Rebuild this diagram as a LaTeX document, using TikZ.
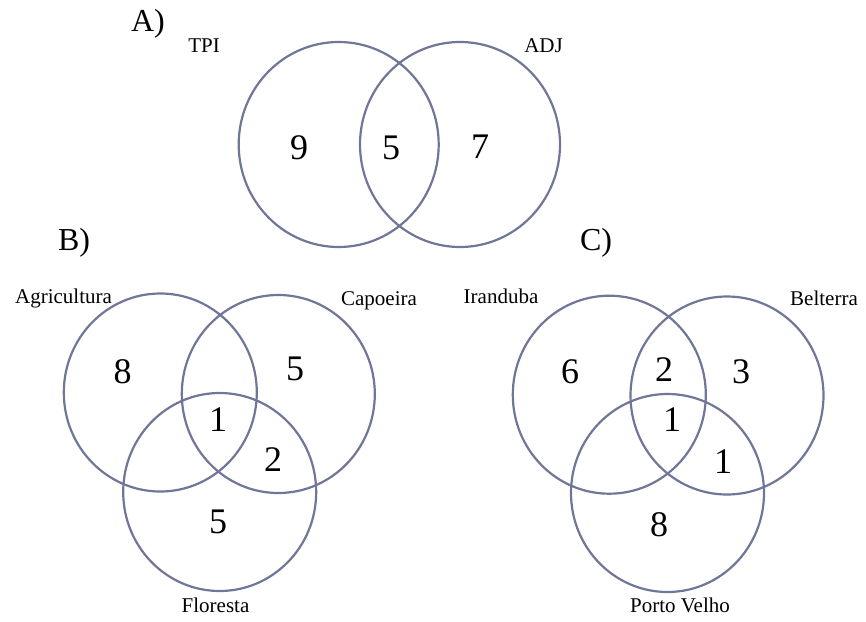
\documentclass[tikz,border=0pt]{standalone}
\usepackage{fontspec}
\setmainfont{Liberation Serif}
\usetikzlibrary{shapes.geometric}

\definecolor{setline}{RGB}{112,118,152}

\begin{document}
\begin{tikzpicture} [
            x=1pt, y=-1pt,
            set/.style={ellipse,draw=setline,line width=2.2pt,inner sep=0pt,
                minimum width=193pt,minimum height=198pt},
            big set/.style={set,minimum width=200pt,minimum height=205pt},
            count/.style={font=\fontsize{36}{36}\selectfont,inner sep=0pt},
            set name/.style={font=\fontsize{21}{21}\selectfont,inner sep=0pt,
                text height=14pt,text depth=4pt},
            panel/.style={font=\fontsize{32}{32}\selectfont,inner sep=0pt},
        ]
        \useasboundingbox (0,0) rectangle (866,621);
        % First we draw the sets
        \node[big set] (tpi) at (338.7,144.5) {};
        \node[big set] (adj) at (460,144.5) {};
        \foreach \pos/\name in {
                % panel B
                {(160.3,392.5)/agr},
                {(278.3,394)/cap},
                {(219.7,492)/flo},
                % panel C
                {(609.3,394.7)/ira},
                {(727,395.5)/bel},
                {(667.5,493)/pvh}}
            \node[set] (\name) at \pos {};
        % Panel letters and set names
        \foreach \pos/\name/\label in {
                {(148,24)/pa/A)},
                {(74,243)/pb/B)},
                {(596,243)/pc/C)}}
            \node[panel] (\name) at \pos {\label};
        \foreach \pos/\name/\label in {
                {(204,47)/ntpi/TPI},
                {(543.5,47)/nadj/ADJ},
                {(63.5,298)/nagr/Agricultura},
                {(379,300)/ncap/Capoeira},
                {(215.5,607)/nflo/Floresta},
                {(501,298)/nira/Iranduba},
                {(824,300)/nbel/Belterra},
                {(680,607)/npvh/Porto Velho}}
            \node[set name] (\name) at \pos {\label};
        % Counts in each region
        \foreach \pos/\name/\label in {
                % top
                {(299,148)/a1/9},
                {(391,148)/a2/5},
                {(480,147)/a3/7},
                % bottom left
                {(122.7,371.5)/b1/8},
                {(295,369)/b2/5},
                {(218,420)/b3/1},
                {(273,460)/b4/2},
                {(218,522)/b5/5},
                % bottom right
                {(570,372)/c1/6},
                {(664,370)/c2/2},
                {(741,372)/c3/3},
                {(672,420)/c4/1},
                {(723,462)/c5/1},
                {(659,525)/c6/8}}
            \node[count] (\name) at \pos {\label};
    \end{tikzpicture}
\end{document}
